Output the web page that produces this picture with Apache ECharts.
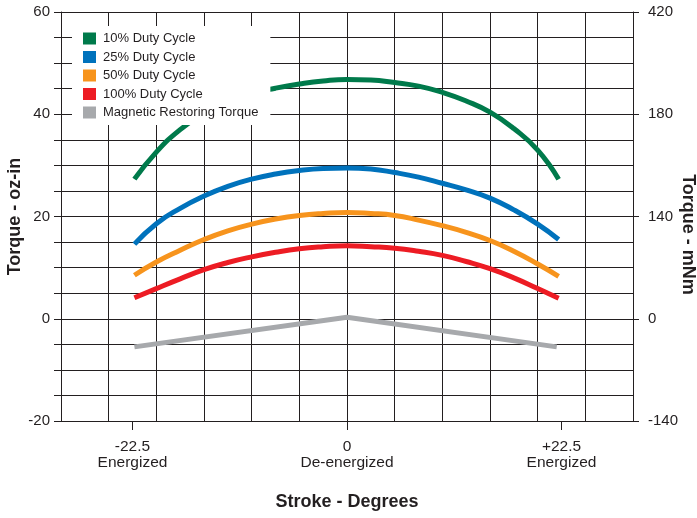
<!DOCTYPE html>
<html>
<head>
<meta charset="utf-8">
<script src="https://cdn.jsdelivr.net/npm/echarts@6/dist/echarts.min.js"></script>
<style>
    html, body { margin: 0; padding: 0; background: #fff; }
    #chart { width: 697px; height: 518px; }
</style>
</head>
<body>
<div id="chart"></div>
<script>
    // stroke positions (degrees) where the curves were read
    const strokeDeg = [-22.3, -20, -17.5, -15, -12.5, -10, -7.5, -5, -2.5, 0,
        2.5, 5, 7.5, 10, 12.5, 15, 17.5, 20, 22.2];
    const duty10 = [27.3, 32.6, 37.0, 40.2, 42.5, 44.1, 45.1, 45.9, 46.5, 46.8,
        46.7, 46.2, 45.5, 44.3, 42.6, 40.4, 37.2, 33.0, 27.3];
    const duty25 = [14.6, 18.6, 21.6, 24.0, 25.9, 27.3, 28.3, 29.0, 29.4, 29.5,
        29.3, 28.6, 27.7, 26.5, 25.2, 23.6, 21.3, 18.5, 15.5];
    const duty50 = [8.5, 11.1, 13.4, 15.5, 17.2, 18.5, 19.5, 20.2, 20.6, 20.8,
        20.6, 20.2, 19.3, 18.2, 16.9, 15.3, 13.2, 10.7, 8.3];
    const duty100 = [4.1, 5.9, 7.8, 9.6, 11.0, 12.1, 13.0, 13.7, 14.1, 14.3,
        14.1, 13.8, 13.2, 12.4, 11.2, 9.8, 8.0, 5.9, 4.0];
    // restoring torque is a straight line
    const restoreDeg = [-22.3, 0, 22.0];
    const restoreVal = [-5.5, 0.3, -5.5];

    const xTickValues = [-22.5, 0, 22.5];
    const xTickLabels = ['-22.5\nEnergized', '0\nDe-energized', '+22.5\nEnergized'];
    const leftTicks = [-20, 0, 20, 40, 60];
    const rightTickLabels = ['-140', '0', '140', '180', '420'];

    const txt = '#231f20';
    const font = 'Liberation Sans, Arial, sans-serif';

    function pairs(xs, ys) {
        return xs.map((x, i) => [x, ys[i]]);
    }

    const chart = echarts.init(document.getElementById('chart'));

    function curve(name, color, xs, ys, smooth) {
        return {
            name: name,
            type: 'line',
            xAxisIndex: 0,
            yAxisIndex: 0,
            data: pairs(xs, ys),
            smooth: smooth,
            showSymbol: false,
            lineStyle: {color: color, width: 5},
            itemStyle: {color: color},
            z: 2
        };
    }

    const option = {
        animation: false,
        textStyle: {fontFamily: font},
        grid: {left: 61, right: 64, top: 12, bottom: 97, outerBoundsMode: 'none', containLabel: false},
        legend: {
            orient: 'vertical',
            left: 72,
            top: 26,
            padding: [6, 12, 6, 11],
            backgroundColor: '#fff',
            icon: 'rect',
            itemWidth: 13,
            itemHeight: 12,
            itemGap: 5.5,
            textStyle: {color: txt, fontSize: 13, fontFamily: font, padding: [2, 0, 0, 2]},
            z: 4
        },
        xAxis: [
            {
                // labelled axis: ticks only at the three stroke positions
                type: 'value',
                min: -30,
                max: 30,
                interval: 5,
                name: 'Stroke - Degrees',
                nameLocation: 'middle',
                nameGap: 72,
                nameMoveOverlap: false,
                nameTextStyle: {color: txt, fontSize: 18, fontWeight: 'bold', fontFamily: font},
                axisLine: {show: true, onZero: false, lineStyle: {color: txt, width: 1}},
                axisTick: {show: true, length: 9, customValues: xTickValues, lineStyle: {color: txt}},
                axisLabel: {
                    customValues: xTickValues,
                    margin: 18,
                    color: txt,
                    fontSize: 15.5,
                    lineHeight: 16,
                    fontFamily: font,
                    formatter: function (v) {
                        const i = xTickValues.indexOf(v);
                        return i >= 0 ? xTickLabels[i] : '';
                    }
                },
                splitLine: {show: false}
            },
            {
                // grid-only axis: vertical lines every 5 degrees
                type: 'value',
                position: 'bottom',
                min: -30,
                max: 30,
                interval: 5,
                axisLine: {show: false, onZero: false},
                axisTick: {show: false},
                axisLabel: {show: false},
                splitLine: {show: true, lineStyle: {color: txt, width: 1}}
            }
        ],
        yAxis: [
            {
                type: 'value',
                min: -20,
                max: 60,
                interval: 5,
                name: 'Torque - oz-in',
                nameLocation: 'middle',
                nameGap: 46,
                nameMoveOverlap: false,
                nameTextStyle: {
                    color: txt, fontSize: 18, fontWeight: 'bold', fontFamily: font,
                    align: 'center', verticalAlign: 'middle'
                },
                axisLine: {show: true, onZero: false, lineStyle: {color: txt, width: 1}},
                axisTick: {show: true, length: 7, lineStyle: {color: txt}},
                axisLabel: {
                    color: txt,
                    fontSize: 15,
                    margin: 11,
                    fontFamily: font,
                    formatter: function (v) {
                        return leftTicks.indexOf(v) >= 0 ? String(v) : '';
                    }
                },
                splitLine: {show: true, lineStyle: {color: txt, width: 1}}
            },
            {
                type: 'value',
                position: 'right',
                min: -20,
                max: 60,
                interval: 20,
                name: 'Torque - mNm',
                nameLocation: 'middle',
                nameGap: 55,
                nameRotate: -90,
                nameMoveOverlap: false,
                nameTextStyle: {
                    color: txt, fontSize: 18, fontWeight: 'bold', fontFamily: font,
                    align: 'center', verticalAlign: 'middle', padding: [0, 0, 0, 36]
                },
                axisLine: {show: true, onZero: false, lineStyle: {color: txt, width: 1}},
                axisTick: {show: true, length: 6, lineStyle: {color: txt}},
                axisLabel: {
                    color: txt,
                    fontSize: 15,
                    margin: 15,
                    fontFamily: font,
                    formatter: function (v) {
                        const i = leftTicks.indexOf(v);
                        return i >= 0 ? rightTickLabels[i] : '';
                    }
                },
                splitLine: {show: false}
            }
        ],
        series: [
            curve('10% Duty Cycle', '#007a4b', strokeDeg, duty10, 0.5),
            curve('25% Duty Cycle', '#0072bc', strokeDeg, duty25, 0.5),
            curve('50% Duty Cycle', '#f7941d', strokeDeg, duty50, 0.5),
            curve('100% Duty Cycle', '#ed1c24', strokeDeg, duty100, 0.5),
            curve('Magnetic Restoring Torque', '#a7a9ac', restoreDeg, restoreVal, false)
        ]
    };

    chart.setOption(option);
</script>
</body>
</html>
